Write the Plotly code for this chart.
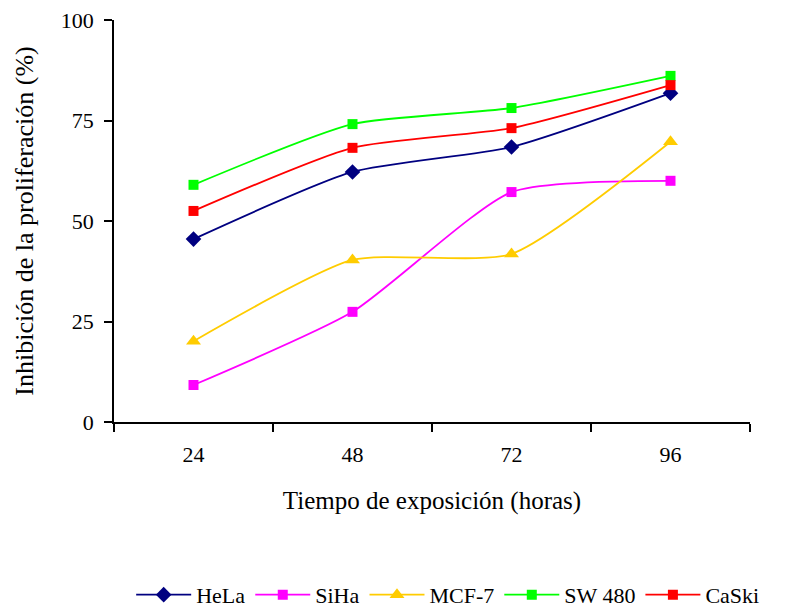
import plotly.graph_objects as go

# Exposure time categories (hours)
horas = ["24", "48", "72", "96"]

# Proliferation inhibition (%) per cell line
hela = [45.5, 62.2, 68.4, 81.8]
siha = [9.2, 27.4, 57.2, 60.0]
mcf7 = [20.1, 40.3, 41.8, 69.7]
sw480 = [59.0, 74.1, 78.1, 86.1]
caski = [52.5, 68.2, 73.1, 83.8]

y_ticks = [0, 25, 50, 75, 100]

series = [
    ("HeLa", hela, "#000080", "diamond", 12),
    ("SiHa", siha, "#FF00FF", "square", 10),
    ("MCF-7", mcf7, "#FFCC00", "triangle-up", 13),
    ("SW 480", sw480, "#00FF00", "square", 10),
    ("CaSki", caski, "#FF0000", "square", 10),
]

font_family = "Liberation Serif"

fig = go.Figure()
for name, vals, color, symbol, size in series:
    fig.add_trace(go.Scatter(
        x=horas, y=vals, name=name, mode="lines+markers",
        line=dict(color=color, width=1.8, shape="spline", smoothing=0.6),
        marker=dict(color=color, symbol=symbol, size=size, line=dict(width=0)),
    ))

fig.update_layout(
    width=786, height=609,
    margin=dict(l=114, r=36, t=20, b=187, autoexpand=False),
    paper_bgcolor="white", plot_bgcolor="white",
    font=dict(family=font_family, color="black", size=22),
    showlegend=True,
    legend=dict(
        orientation="h", x=0.027, xanchor="left", y=-0.43, yanchor="middle",
        font=dict(size=22, family=font_family),
        traceorder="normal", itemwidth=55,
    ),
    xaxis=dict(
        type="category", range=[-0.5, 3.5], tickson="boundaries",
        showline=True, linecolor="black", linewidth=1.5,
        ticks="outside", ticklen=8, tickwidth=1.5, tickcolor="black",
        showgrid=False, zeroline=False, ticklabelstandoff=12,
        tickfont=dict(size=22, family=font_family),
        title=dict(text="Tiempo de exposición (horas)",
                   font=dict(size=25, family=font_family), standoff=25),
    ),
    yaxis=dict(
        range=[0, 100], tickvals=y_ticks, ticktext=[str(v) for v in y_ticks],
        showline=True, linecolor="black", linewidth=1.5,
        ticks="outside", ticklen=8, tickwidth=1.5, tickcolor="black",
        showgrid=False, zeroline=False, ticklabelstandoff=6,
        tickfont=dict(size=22, family=font_family),
        title=dict(text="Inhibición de la proliferación (%)",
                   font=dict(size=26, family=font_family), standoff=20),
    ),
)

fig.write_html("out.html")
